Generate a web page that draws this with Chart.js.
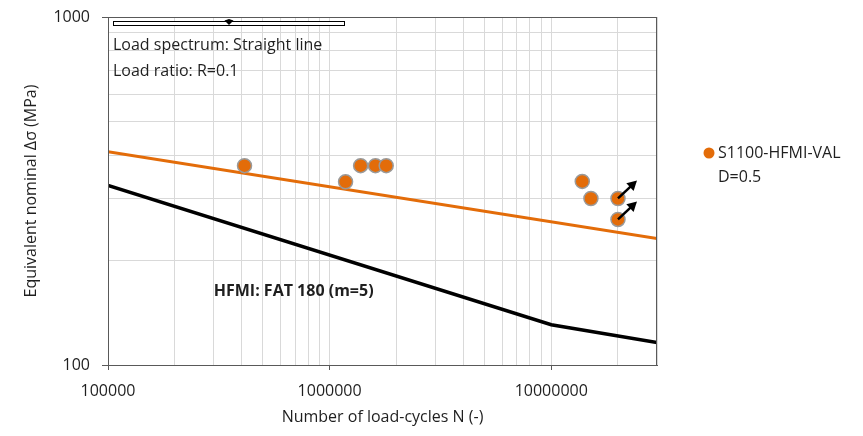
<!DOCTYPE html>
<html>
<head>
<meta charset="utf-8">
<script src="https://cdn.jsdelivr.net/npm/chart.js@4/dist/chart.umd.min.js"></script>
<style>
  html, body { margin: 0; padding: 0; background: #fff; }
  #wrap { width: 863px; height: 436px; }
</style>
</head>
<body>
<div id="wrap"><canvas id="chart" width="863" height="436"></canvas></div>
<script>
// test results S1100-HFMI-VAL, D=0.5
const testN = [413000, 1180000, 1380000, 1610000, 1800000, 13800000, 15100000, 20000000, 20000000];
const testS = [374, 336, 374, 374, 374, 337, 301, 301, 262];
// run-outs (drawn with arrows)
const runoutN = [20000000, 20000000];
const runoutS = [301, 262];

// orange fit line
const fitN = [100000, 30000000];
const fitS = [410, 231];

// HFMI FAT 180 design curve
const fatN = [100000, 10000000, 30000000];
const fatS = [328, 130.5, 116];

// axis ticks
const xTickValues = [100000, 200000, 300000, 400000, 500000, 600000, 700000, 800000, 900000,
  1000000, 2000000, 3000000, 4000000, 5000000, 6000000, 7000000, 8000000, 9000000,
  10000000, 20000000, 30000000];
const xTickLabels = [100000, 1000000, 10000000];
const yTickValues = [100, 200, 300, 400, 500, 600, 700, 800, 900, 1000];
const yTickLabels = [100, 1000];

const ORANGE = "#E36C09";
const FONT = "'Open Sans', 'Liberation Sans', sans-serif";
const TEXT = "#1f1f1f";
const AXIS = "#595959";

const toXY = (xs, ys) => xs.map((x, i) => ({ x, y: ys[i] }));

const overlay = {
  id: "overlay",
  afterDatasetsDraw(chart) {
    const { ctx, chartArea, scales } = chart;
    const { left, top, right, bottom } = chartArea;
    ctx.save();

    // plot frame
    ctx.strokeStyle = AXIS;
    ctx.lineWidth = 1;
    ctx.strokeRect(left + 0.5, top + 0.5, right - left - 1, bottom - top);

    // run-out arrows
    ctx.strokeStyle = "#000";
    ctx.fillStyle = "#000";
    ctx.lineWidth = 2.5;
    runoutN.forEach((n, i) => {
      const x0 = scales.x.getPixelForValue(n);
      const y0 = scales.y.getPixelForValue(runoutS[i]);
      const x1 = x0 + 19;
      const y1 = y0 - 18;
      const ang = Math.atan2(y1 - y0, x1 - x0);
      ctx.beginPath();
      ctx.moveTo(x0, y0);
      ctx.lineTo(x1 - 6 * Math.cos(ang), y1 - 6 * Math.sin(ang));
      ctx.stroke();
      ctx.beginPath();
      ctx.moveTo(x1, y1);
      ctx.lineTo(x1 - 11 * Math.cos(ang - 0.5), y1 - 11 * Math.sin(ang - 0.5));
      ctx.lineTo(x1 - 11 * Math.cos(ang + 0.5), y1 - 11 * Math.sin(ang + 0.5));
      ctx.closePath();
      ctx.fill();
    });

    // slider-like bar at top
    ctx.lineWidth = 1;
    ctx.strokeStyle = "#000";
    ctx.fillStyle = "#fff";
    ctx.fillRect(left + 5.5, top + 4.5, 231, 4);
    ctx.strokeRect(left + 5.5, top + 4.5, 231, 4);
    ctx.fillStyle = "#000";
    ctx.beginPath();
    const mx = left + 121, my = top + 5;
    ctx.moveTo(mx - 4.5, my - 1.5);
    ctx.lineTo(mx, my - 3);
    ctx.lineTo(mx + 4.5, my - 1.5);
    ctx.lineTo(mx, my + 3);
    ctx.closePath();
    ctx.fill();

    // annotation text
    ctx.fillStyle = TEXT;
    ctx.textBaseline = "middle";
    ctx.textAlign = "left";
    ctx.font = `16px ${FONT}`;
    ctx.fillText("Load spectrum: Straight line", left + 5, top + 28);
    ctx.fillText("Load ratio: R=0.1", left + 5, top + 54);

    ctx.font = `bold 16px ${FONT}`;
    ctx.fillText("HFMI: FAT 180 (m=5)", scales.x.getPixelForValue(300000), scales.y.getPixelForValue(163));

    // legend
    ctx.fillStyle = ORANGE;
    ctx.beginPath();
    ctx.arc(right + 52, 153, 5.5, 0, Math.PI * 2);
    ctx.fill();
    ctx.fillStyle = TEXT;
    ctx.font = `16px ${FONT}`;
    ctx.fillText("S1100-HFMI-VAL", right + 61, 153);
    ctx.fillText("D=0.5", right + 61, 177);

    ctx.restore();
  },
};

new Chart(document.getElementById("chart"), {
  type: "scatter",
  data: {
    datasets: [
      {
        label: "S1100-HFMI-VAL D=0.5",
        data: toXY(testN, testS),
        backgroundColor: ORANGE,
        borderColor: "#9a9a9a",
        borderWidth: 1.5,
        pointRadius: 7,
        showLine: false,
        order: 0,
      },
      {
        label: "fit",
        data: toXY(fitN, fitS),
        borderColor: ORANGE,
        borderWidth: 3,
        pointRadius: 0,
        showLine: true,
        order: 1,
      },
      {
        label: "HFMI: FAT 180 (m=5)",
        data: toXY(fatN, fatS),
        borderColor: "#000",
        borderWidth: 3.5,
        pointRadius: 0,
        showLine: true,
        order: 2,
      },
    ],
  },
  options: {
    responsive: false,
    animation: false,
    events: [],
    layout: { padding: { top: 17, right: 206, bottom: 0, left: 0 } },
    plugins: {
      legend: { display: false },
      tooltip: { enabled: false },
    },
    scales: {
      x: {
        type: "logarithmic",
        min: 100000,
        max: 30000000,
        afterBuildTicks: (scale) => {
          scale.ticks = xTickValues.map((value) => ({ value }));
        },
        afterFit: (scale) => {
          scale.height = 71;
          scale.paddingLeft = 0;
          scale.paddingRight = 0;
        },
        ticks: {
          autoSkip: false,
          maxRotation: 0,
          padding: 12,
          color: TEXT,
          font: { family: FONT, size: 16 },
          callback: (value) => (xTickLabels.includes(value) ? String(value) : ""),
        },
        grid: {
          color: "#d9d9d9",
          tickLength: 5,
          tickColor: (ctx) => (ctx.tick && xTickLabels.includes(ctx.tick.value) ? AXIS : "rgba(0,0,0,0)"),
        },
        border: { color: AXIS },
        title: {
          display: true,
          text: "Number of load-cycles N (-)",
          color: TEXT,
          font: { family: FONT, size: 16 },
          padding: { top: 0, bottom: 9 },
        },
      },
      y: {
        type: "logarithmic",
        min: 100,
        max: 1000,
        afterBuildTicks: (scale) => {
          scale.ticks = yTickValues.map((value) => ({ value }));
        },
        afterFit: (scale) => {
          scale.width = 108;
          scale.paddingTop = 0;
          scale.paddingBottom = 0;
        },
        ticks: {
          autoSkip: false,
          padding: 12,
          color: TEXT,
          font: { family: FONT, size: 16 },
          callback: (value) => (yTickLabels.includes(value) ? String(value) : ""),
        },
        grid: {
          color: "#d9d9d9",
          tickLength: 6,
          tickColor: (ctx) => (ctx.tick && yTickLabels.includes(ctx.tick.value) ? AXIS : "rgba(0,0,0,0)"),
        },
        border: { color: AXIS },
        title: {
          display: true,
          text: "Equivalent nominal Δσ (MPa)",
          color: TEXT,
          font: { family: FONT, size: 16 },
          padding: { top: 22, bottom: 0 },
        },
      },
    },
  },
  plugins: [overlay],
});
</script>
</body>
</html>
